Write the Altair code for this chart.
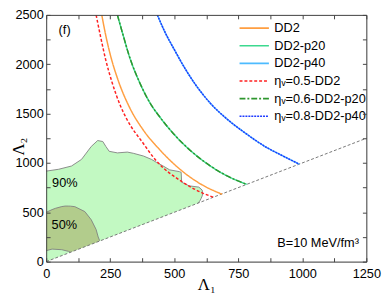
import altair as alt
import pandas as pd

# ---------------- data ----------------
x_label_values = [0, 250, 500, 750, 1000, 1250]
x_tick_values = [0, 125, 250, 375, 500, 625, 750, 875, 1000, 1125, 1250]
y_label_values = [0, 500, 1000, 1500, 2000, 2500]
y_tick_values = [0, 250, 500, 750, 1000, 1250, 1500, 1750, 2000, 2250, 2500]

series_names = ["DD2", "DD2-p20", "DD2-p40",
                "ηᵥ=0.5-DD2", "ηᵥ=0.6-DD2-p20", "ηᵥ=0.8-DD2-p40"]
series_colors = ["#FF9E40", "#3CD98F", "#4DBBFF", "#FF2020", "#2E962E", "#1F3BFF"]
series_dashes = [[1, 0], [1, 0], [1, 0], [3, 2], [6, 2, 2, 2], [2, 1]]

dd2_l1 = [217, 232, 251, 282, 325, 380, 443, 526, 609, 687]
dd2_l2 = [2500, 2300, 2090, 1830, 1565, 1330, 1135, 928, 778, 683]
p20_l1 = [278, 302, 326, 364, 412, 443, 507, 571, 635, 698, 783]
p20_l2 = [2500, 2280, 2070, 1820, 1580, 1468, 1268, 1108, 980, 880, 783]
p40_l1 = [434, 463, 501, 546, 584, 640, 711, 775, 864, 915, 988]
p40_l2 = [2500, 2330, 2145, 1940, 1790, 1608, 1434, 1307, 1152, 1083, 988]
eta05_l1 = [195, 213, 232, 258, 291, 316, 380, 424, 533, 609, 654]
eta05_l2 = [2500, 2272, 2050, 1810, 1572, 1438, 1195, 1040, 805, 697, 652]
eta06_l1 = [278, 302, 326, 364, 412, 443, 507, 571, 635, 698, 783]
eta06_l2 = [2500, 2280, 2070, 1820, 1580, 1468, 1268, 1108, 980, 880, 783]
eta08_l1 = [434, 463, 501, 546, 584, 640, 711, 775, 864, 915, 988]
eta08_l2 = [2500, 2330, 2145, 1940, 1790, 1608, 1434, 1307, 1152, 1083, 988]

# equal-mass boundary (dashed diagonal)
diag_l1 = [0, 1250]
diag_l2 = [0, 1250]

# 90% credible region
c90_l1 = [0, 49, 99, 138, 176, 201, 221, 233, 246, 278, 317, 340, 380, 412, 431,
          456, 482, 520, 527, 529, 558, 592, 600, 605, 609, 611]
c90_top = [917, 936, 969, 1036, 1167, 1227, 1217, 1167, 1118, 1102, 1110, 1098, 1070,
           1035, 1005, 970, 930, 912, 905, 805, 768, 757, 752, 738, 725, 690]
c90_bot = [0, 49, 99, 138, 176, 201, 221, 233, 246, 278, 317, 340, 380, 412, 431,
           456, 482, 520, 527, 529, 558, 592, 615, 640, 665, 690]
o90_l1 = [0, 49, 99, 138, 176, 201, 221, 233, 246, 278, 317, 340, 380, 412, 431,
          456, 482, 520, 527, 529, 558, 596, 609, 611, 609, 605, 600, 592]
o90_l2 = [917, 936, 969, 1036, 1167, 1227, 1217, 1167, 1118, 1102, 1110, 1098, 1070,
          1035, 1005, 970, 930, 912, 905, 805, 768, 755, 725, 690, 665, 640, 615, 592]

# 50% credible region
c50_l1 = [0, 23, 36, 61, 74, 87, 95, 112, 151, 176, 195, 203, 209]
c50_top = [500, 527, 540, 558, 563, 563, 562, 557, 507, 424, 325, 250, 212]
c50_bot = [111, 127, 126, 121, 113, 104, 95, 112, 151, 176, 195, 203, 209]
o50a_l1 = [0, 23, 36, 61, 74, 87, 95, 112, 151, 176, 195, 203, 209]
o50a_l2 = [500, 527, 540, 558, 563, 563, 562, 557, 507, 424, 325, 250, 212]
o50b_l1 = [0, 23, 61, 87, 95]
o50b_l2 = [111, 127, 121, 104, 95]

# annotations
ann_left_text = ["90%", "50%"]
ann_left_l1 = [23, 21]
ann_left_l2 = [797, 372]
ann_f_text = ["(f)"]
ann_f_l1 = [72]
ann_f_l2 = [2343]
ann_right_text = ["B=10 MeV/fm³"]
ann_right_l1 = [1221]
ann_right_l2 = [193]

# ---------------- build tables ----------------
def curve_rows(pairs):
    rows = []
    for name, xs, ys in pairs:
        for i, (a, b) in enumerate(zip(xs, ys)):
            rows.append({"l1": a, "l2": b, "series": name, "i": i})
    return pd.DataFrame(rows)

solid_df = curve_rows([(series_names[0], dd2_l1, dd2_l2),
                       (series_names[1], p20_l1, p20_l2),
                       (series_names[2], p40_l1, p40_l2)])
eta_df = curve_rows([(series_names[3], eta05_l1, eta05_l2),
                     (series_names[4], eta06_l1, eta06_l2),
                     (series_names[5], eta08_l1, eta08_l2)])
diag_df = pd.DataFrame({"l1": diag_l1, "l2": diag_l2})
c90_df = pd.DataFrame({"l1": c90_l1, "top": c90_top, "bot": c90_bot})
c50_df = pd.DataFrame({"l1": c50_l1, "top": c50_top, "bot": c50_bot})
o90_df = pd.DataFrame({"l1": o90_l1, "l2": o90_l2, "i": list(range(len(o90_l1))), "g": "a"})
o50_df = pd.concat([
    pd.DataFrame({"l1": o50a_l1, "l2": o50a_l2, "i": list(range(len(o50a_l1))), "g": "a"}),
    pd.DataFrame({"l1": o50b_l1, "l2": o50b_l2, "i": list(range(len(o50b_l1))), "g": "b"}),
])
left_df = pd.DataFrame({"l1": ann_left_l1, "l2": ann_left_l2, "t": ann_left_text})
f_df = pd.DataFrame({"l1": ann_f_l1, "l2": ann_f_l2, "t": ann_f_text})
right_df = pd.DataFrame({"l1": ann_right_l1, "l2": ann_right_l2, "t": ann_right_text})

# ---------------- chart ----------------
W, H = 327, 252
FONT = "Liberation Sans"
xsc = alt.Scale(domain=[0, 1250], nice=False, zero=False)
ysc = alt.Scale(domain=[0, 2500], nice=False, zero=False)

ax_x_main = alt.Axis(orient="bottom", values=x_label_values, format="d", ticks=False, domain=True,
                     domainColor="#444", labelFontSize=13, labelFont=FONT, labelColor="black",
                     labelPadding=6, labelFlush=False, grid=False, title="Λ₁",
                     titleFont="Liberation Serif", titleFontSize=17, titleFontWeight="normal",
                     titleColor="black", titleY=28, titleBaseline="alphabetic", zindex=2)
ax_y_main = alt.Axis(orient="left", values=y_label_values, format="d", ticks=False, domain=True,
                     domainColor="#444", labelFontSize=13, labelFont=FONT, labelColor="black",
                     labelPadding=3, labelFlush=False, grid=False, title="Λ₂",
                     titleFont="Liberation Serif", titleFontSize=17, titleFontWeight="normal",
                     titleColor="black", titleX=-28, titleY=H / 2 + 8, titleBaseline="middle",
                     titleAngle=270, zindex=2)
ax_x_in_bottom = alt.Axis(orient="top", offset=-H, values=x_tick_values, labels=False,
                          domain=False, tickSize=4, tickColor="#444", grid=False, title=None, zindex=2)
ax_x_in_top = alt.Axis(orient="bottom", offset=-H, values=x_tick_values, labels=False,
                       domain=True, domainColor="#444", tickSize=4, tickColor="#444",
                       grid=False, title=None, zindex=2)
ax_y_in_left = alt.Axis(orient="right", offset=-W, values=y_tick_values, labels=False,
                        domain=False, tickSize=4, tickColor="#444", grid=False, title=None, zindex=2)
ax_y_in_right = alt.Axis(orient="left", offset=-W, values=y_tick_values, labels=False,
                         domain=True, domainColor="#444", tickSize=4, tickColor="#444",
                         grid=False, title=None, zindex=2)


def X(axis=None, field="l1"):
    return alt.X(f"{field}:Q", scale=xsc, axis=axis)


def Y(axis=None, field="l2"):
    return alt.Y(f"{field}:Q", scale=ysc, axis=axis)


carrier1 = alt.Chart(diag_df).mark_line(strokeOpacity=0).encode(X(ax_x_main), Y(ax_y_main))
carrier2 = alt.Chart(diag_df).mark_line(strokeOpacity=0).encode(X(ax_x_in_bottom), Y(ax_y_in_left))
carrier3 = alt.Chart(diag_df).mark_line(strokeOpacity=0).encode(X(ax_x_in_top), Y(ax_y_in_right))

area90 = alt.Chart(c90_df).mark_area(color="#C2F9C2", orient="vertical").encode(
    X(), Y(field="top"), y2="bot:Q")
line90 = alt.Chart(o90_df).mark_line(color="#808080", strokeWidth=0.9).encode(
    X(), Y(), order="i:Q")
area50 = alt.Chart(c50_df).mark_area(color="#B2CC8C", orient="vertical").encode(
    X(), Y(field="top"), y2="bot:Q")
line50 = alt.Chart(o50_df).mark_line(color="#808080", strokeWidth=0.9).encode(
    X(), Y(), detail="g:N", order="i:Q")
diag = alt.Chart(diag_df).mark_line(color="#777777", strokeWidth=1, strokeDash=[3, 2]).encode(X(), Y())

leg = alt.Legend(title=None, orient="none", legendX=206, legendY=7, symbolType="M-3,0H3",
                 symbolSize=100, symbolStrokeWidth=1.6, labelFontSize=13, labelFont=FONT,
                 labelColor="black", labelOffset=14, rowPadding=4, padding=0, labelLimit=250)
col = alt.Color("series:N", scale=alt.Scale(domain=series_names, range=series_colors), legend=leg)
dash = alt.StrokeDash("series:N", scale=alt.Scale(domain=series_names, range=series_dashes), legend=leg)

solid = alt.Chart(solid_df).mark_line(strokeWidth=1.5, clip=True, interpolate="monotone").encode(
    X(), Y(), color=col, strokeDash=dash, detail="series:N", order="i:Q")
eta = alt.Chart(eta_df).mark_line(strokeWidth=1.5, clip=True, interpolate="monotone").encode(
    X(), Y(), color=col, strokeDash=dash, detail="series:N", order="i:Q")

t_left = alt.Chart(left_df).mark_text(align="left", baseline="middle", fontSize=13, font=FONT,
                                      color="black").encode(X(), Y(), text="t:N")
t_f = alt.Chart(f_df).mark_text(align="center", baseline="middle", fontSize=13, font=FONT,
                                color="black").encode(X(), Y(), text="t:N")
t_right = alt.Chart(right_df).mark_text(align="right", baseline="middle", fontSize=13, font=FONT,
                                        color="black").encode(X(), Y(), text="t:N")

chart = alt.layer(
    carrier1, area90, line90, area50, line50, diag, solid, eta, t_left, t_f, t_right,
    carrier2, carrier3
).resolve_axis(x="independent", y="independent").properties(
    width=W, height=H,
    autosize=alt.AutoSizeParams(type="none"),
    padding={"left": 39, "top": 4, "right": 16, "bottom": 30},
).configure_view(stroke=None).configure(background="white")

chart.save("out.html", embed_options={"renderer": "svg", "actions": False})
